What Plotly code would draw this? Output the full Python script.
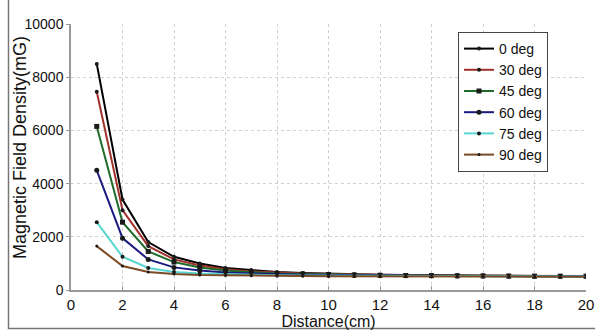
import plotly.graph_objects as go

distance = list(range(1, 21))
names = ["0 deg", "30 deg", "45 deg", "60 deg", "75 deg", "90 deg"]
deg0 = [8500, 3400, 1800, 1250, 1000, 830, 750, 680, 640, 610, 590, 570, 560, 550, 545, 540, 535, 530, 530, 530]
deg30 = [7450, 3000, 1650, 1150, 920, 780, 700, 650, 620, 600, 580, 560, 550, 545, 540, 535, 530, 525, 525, 525]
deg45 = [6150, 2550, 1450, 1050, 850, 730, 670, 620, 600, 580, 565, 555, 545, 540, 535, 530, 525, 520, 520, 520]
deg60 = [4500, 1950, 1150, 850, 730, 660, 620, 590, 575, 565, 555, 545, 540, 535, 530, 525, 520, 520, 515, 515]
deg75 = [2550, 1250, 830, 680, 620, 590, 570, 555, 545, 540, 535, 530, 525, 520, 520, 515, 515, 510, 510, 510]
deg90 = [1650, 900, 680, 600, 560, 545, 535, 530, 525, 520, 515, 512, 510, 508, 505, 505, 503, 502, 500, 500]
series = [deg0, deg30, deg45, deg60, deg75, deg90]
x_ticks = list(range(0, 21, 2))
y_ticks = [0, 2000, 4000, 6000, 8000, 10000]
y_ticklabels = ["0", "2000", "4000", "6000", "8000", "10000"]

colors = ["#000000", "#a0312a", "#1f6b2a", "#1a1a80", "#55d6d0", "#7a4a24"]
symbols = ["circle", "circle", "square", "circle", "circle", "circle"]
msizes = [4, 4, 5, 5, 4, 3]

fig = go.Figure()
for n, s, c, sym, ms in zip(names, series, colors, symbols, msizes):
    fig.add_trace(go.Scatter(
        x=distance, y=s, name=n, mode="lines+markers",
        line=dict(color=c, width=2),
        marker=dict(symbol=sym, size=ms, color="#1a1a1a"),
    ))

W, H = 595, 334
L, R, T, B = 71, 9, 24, 44
pw, ph = W - L - R, H - T - B

def px(xw):
    return (xw - L) / pw

def py(yw):
    return (H - B - yw) / ph

fig.add_shape(type="rect", xref="paper", yref="paper", layer="above",
              x0=px(8.5), x1=px(600), y0=py(328.5), y1=py(-5),
              line=dict(color="#777777", width=1.5), fillcolor="rgba(0,0,0,0)")

FONT = "Liberation Sans, Arial, sans-serif"
tick_font = dict(family=FONT, size=14, color="#111111")

fig.add_annotation(
    text="Magnetic Field Density(mG)", xref="paper", yref="paper",
    x=px(20), y=py(148), xanchor="center", yanchor="middle",
    textangle=-90, showarrow=False,
    font=dict(size=18, family=FONT, color="#111111"),
)

fig.update_layout(
    width=W, height=H,
    margin=dict(l=L, r=R, t=T, b=B, autoexpand=False),
    paper_bgcolor="white", plot_bgcolor="white",
    font=tick_font,
    showlegend=True,
    legend=dict(
        x=px(458), y=py(32), xanchor="left", yanchor="top",
        bgcolor="white", bordercolor="#444444", borderwidth=1,
        font=dict(family=FONT, size=14, color="#111111"),
        tracegroupgap=0, itemwidth=30,
    ),
    xaxis=dict(
        range=[0, 20], tickvals=x_ticks,
        showgrid=True, gridcolor="#d0d0d0", griddash="dot", gridwidth=1,
        showline=True, linecolor="#999999", linewidth=1.5,
        ticks="inside", ticklen=4, tickcolor="#999999",
        zeroline=False, automargin=False,
        title=dict(text="Distance(cm)", font=dict(size=16, family=FONT, color="#111111"), standoff=0),
        tickfont=dict(family=FONT, size=15, color="#111111"),
    ),
    yaxis=dict(
        range=[0, 10000], tickvals=y_ticks, ticktext=y_ticklabels,
        showgrid=True, gridcolor="#d0d0d0", griddash="dot", gridwidth=1,
        showline=True, linecolor="#999999", linewidth=1.5,
        ticks="outside", ticklen=3, tickcolor="#999999",
        zeroline=False, automargin=False,
        tickfont=tick_font,
    ),
)

fig.write_html(
    "out.html",
    config={"displayModeBar": False},
    post_script="document.body.style.margin='0';document.body.style.overflow='hidden';",
)
